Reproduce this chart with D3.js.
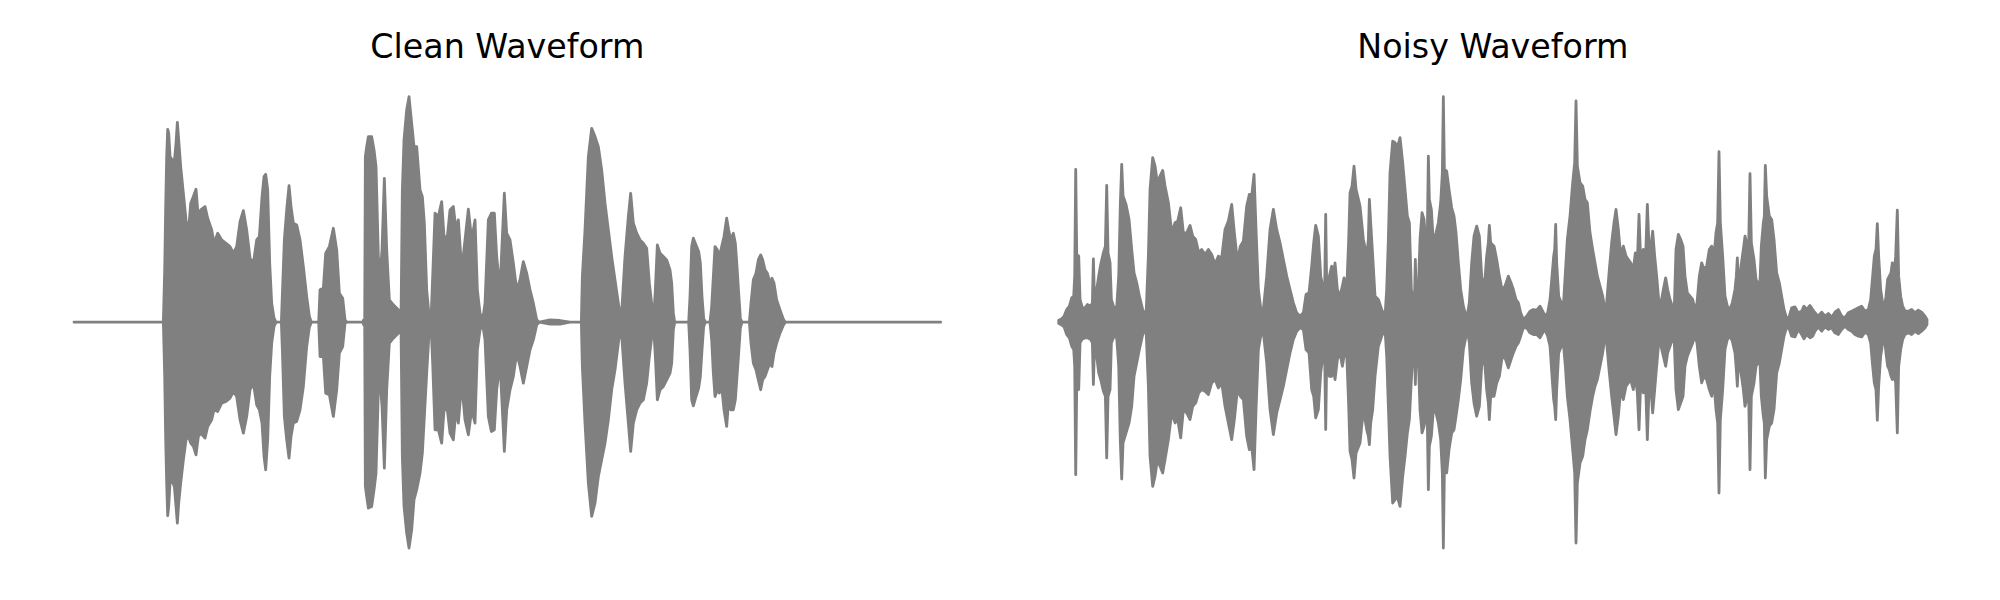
<!DOCTYPE html>
<html><head><meta charset="utf-8">
<script src="https://cdn.jsdelivr.net/npm/d3@7"></script>
<style>html,body{margin:0;padding:0;background:#fff;} svg{display:block;}</style>
</head><body>
<svg id="chart" width="2000" height="600"></svg>
<script>
const panelTitles = ["Clean Waveform", "Noisy Waveform"];

// Envelope of each waveform:
// [time (ms), upper amplitude (x1e-3), lower amplitude (x1e-3)]
const cleanEnvelope = [
[0,0,0],[268,0,0],[272,157,-163],[275,347,-353],[278,497,-483],[281,579,-581],[284,567,-553],[288,497,-483],
[295,487,-478],[301,482,-493],[306,537,-553],[310,600,-603],[314,547,-543],[320,467,-483],[328,387,-413],
[336,307,-353],[343,267,-343],[350,357,-363],[358,377,-373],[366,399,-398],[373,312,-343],[380,337,-333],
[393,347,-348],[401,312,-313],[413,277,-293],[420,237,-263],[431,267,-268],[443,247,-243],[456,237,-238],
[468,227,-228],[478,207,-208],[488,227,-223],[498,302,-293],[508,335,-333],[518,277,-283],[528,192,-203],
[538,177,-183],[548,247,-248],[556,257,-263],[564,377,-303],[570,437,-403],[575,444,-443],[581,397,-353],
[587,177,-163],[593,57,-63],[600,12,-13],[606,0,0],[622,0,0],[625,82,-83],[631,247,-283],[638,337,-353],
[645,410,-408],[651,347,-343],[658,297,-303],[668,292,-298],[678,247,-263],[688,167,-193],[698,77,-73],
[706,17,-15],[712,0,0],[734,0,0],[738,97,-103],[748,102,-103],[755,207,-213],[766,227,-218],[778,282,-283],
[788,217,-203],[796,87,-93],[806,72,-73],[813,7,-3],[818,0,0],[866,0,0],[869,7,-8],[872,0,0],[874,497,-493],
[878,527,-523],[883,557,-558],[893,557,-553],[900,517,-503],[906,467,-453],[913,197,-203],[918,137,-173],
[924,217,-253],[931,432,-438],[938,217,-203],[946,67,-63],[958,52,-48],[973,37,-33],[981,7,-13],[985,397,-403],
[990,547,-553],[998,637,-633],[1005,677,-678],[1013,597,-623],[1020,527,-533],[1028,527,-503],[1038,397,-453],
[1045,377,-393],[1051,297,-283],[1058,97,-153],[1066,12,-18],[1071,7,-8],[1076,137,-123],[1083,327,-323],
[1093,317,-323],[1103,362,-363],[1110,257,-263],[1120,257,-263],[1128,337,-333],[1138,347,-353],[1146,277,-263],
[1153,307,-303],[1163,157,-183],[1173,247,-293],[1183,339,-338],[1193,247,-263],[1203,307,-303],[1210,97,-83],
[1218,27,-23],[1226,7,-8],[1233,57,-53],[1243,307,-283],[1252,327,-328],[1261,327,-323],[1268,197,-203],
[1278,97,-123],[1286,277,-283],[1291,387,-388],[1298,267,-263],[1308,247,-203],[1318,177,-163],[1328,97,-93],
[1338,127,-133],[1348,182,-183],[1358,147,-133],[1368,97,-83],[1378,57,-53],[1388,7,-8],[1396,0,0],[1428,7,-6],
[1458,5,-6],[1488,0,0],[1522,0,0],[1525,137,-133],[1533,277,-303],[1543,497,-483],[1553,582,-583],[1563,557,-543],
[1573,527,-463],[1583,457,-413],[1593,357,-363],[1603,277,-293],[1613,197,-203],[1623,127,-143],[1633,57,-63],
[1639,12,-15],[1644,47,-53],[1653,197,-183],[1663,317,-303],[1670,387,-388],[1678,297,-303],[1688,267,-263],
[1698,247,-243],[1708,237,-233],[1718,222,-183],[1726,117,-103],[1734,47,-38],[1739,12,-18],[1744,97,-103],
[1750,232,-233],[1758,207,-203],[1768,197,-193],[1778,187,-173],[1788,157,-153],[1793,117,-123],[1798,27,-23],
[1802,0,0],[1844,0,0],[1848,77,-83],[1853,227,-233],[1858,252,-251],[1866,232,-223],[1874,212,-198],[1879,177,-163],
[1884,77,-83],[1889,12,-13],[1894,0,0],[1908,0,0],[1913,47,-53],[1918,137,-153],[1923,227,-223],[1930,217,-203],
[1936,197,-213],[1943,227,-193],[1950,257,-263],[1958,312,-313],[1964,277,-233],[1970,247,-263],[1978,267,-263],
[1984,237,-233],[1989,167,-163],[1994,87,-93],[1999,12,-18],[2004,0,0],[2026,0,0],[2031,57,-63],[2038,127,-123],
[2046,147,-143],[2053,187,-173],[2060,202,-203],[2066,187,-173],[2073,157,-163],[2080,147,-143],[2088,117,-123],
[2094,132,-133],[2100,117,-93],[2108,67,-63],[2118,37,-33],[2128,9,-9],[2134,0,0],[2600,0,0]
];

const noisyEnvelope = [
[0,5,-5],[9,9,-9],[16,17,-15],[24,37,-38],[32,47,-48],[39,72,-73],[45,77,-83],[48,137,-133],[51,457,-458],
[54,202,-198],[60,197,-203],[64,67,-63],[71,42,-51],[79,42,-48],[86,52,-48],[96,47,-53],[101,57,-63],[104,189,-188],
[107,77,-83],[114,97,-103],[120,137,-153],[126,172,-173],[134,207,-208],[140,227,-223],[144,409,-408],[148,207,-223],
[154,177,-203],[158,67,-63],[166,42,-43],[174,45,-48],[180,137,-133],[185,357,-363],[189,472,-471],[193,377,-363],
[202,352,-333],[211,307,-303],[219,217,-253],[226,147,-163],[234,117,-123],[242,77,-83],[252,37,-38],[262,17,-21],
[269,197,-193],[274,397,-403],[282,492,-493],[289,467,-463],[296,417,-413],[304,437,-433],[312,454,-453],[319,407,-413],
[329,357,-353],[339,267,-273],[349,297,-303],[357,302,-293],[366,342,-348],[374,267,-263],[384,267,-273],[394,289,-293],
[402,257,-253],[411,247,-243],[420,207,-213],[429,217,-203],[439,202,-208],[449,217,-218],[459,202,-183],[469,172,-173],
[479,197,-198],[489,192,-183],[499,277,-253],[509,302,-303],[519,352,-353],[527,267,-293],[536,182,-203],[545,227,-223],
[554,242,-233],[564,347,-343],[572,382,-383],[579,377,-373],[586,442,-443],[592,277,-263],[599,97,-83],[606,42,-43],
[614,37,-33],[624,137,-123],[634,277,-263],[644,337,-338],[654,277,-273],[664,237,-233],[674,187,-193],[684,137,-143],
[694,97,-93],[704,57,-53],[714,27,-28],[724,17,-18],[734,27,-23],[742,82,-83],[751,87,-93],[759,167,-203],[765,237,-223],
[771,289,-288],[779,257,-263],[786,137,-153],[794,97,-93],[798,107,-103],[801,322,-323],[804,107,-113],[812,137,-163],
[819,167,-163],[824,137,-133],[829,177,-173],[836,97,-113],[844,77,-93],[851,107,-133],[856,132,-103],[864,97,-93],
[870,247,-253],[874,387,-388],[880,407,-413],[886,467,-468],[892,397,-393],[904,347,-363],[914,247,-263],[924,197,-323],
[929,247,-343],[932,367,-368],[936,297,-303],[942,197,-263],[949,77,-163],[959,67,-73],[969,37,-43],[979,17,-23],
[984,97,-103],[989,247,-253],[994,447,-403],[1002,542,-543],[1009,537,-533],[1016,522,-523],[1024,552,-553],
[1032,477,-463],[1039,397,-403],[1046,317,-333],[1052,297,-293],[1058,97,-173],[1064,57,-73],[1067,57,-68],
[1070,187,-188],[1073,57,-63],[1079,97,-113],[1084,247,-263],[1090,327,-333],[1096,307,-313],[1102,227,-283],
[1106,267,-303],[1109,497,-503],[1112,367,-373],[1118,337,-343],[1124,237,-263],[1132,267,-273],[1139,297,-303],
[1146,357,-353],[1151,447,-453],[1154,675,-678],[1157,457,-453],[1164,452,-453],[1171,397,-383],[1179,342,-333],
[1186,317,-323],[1192,267,-283],[1199,177,-233],[1206,97,-173],[1214,47,-83],[1222,17,-43],[1227,27,-33],[1232,57,-63],
[1239,177,-183],[1246,257,-243],[1254,287,-283],[1262,257,-253],[1269,137,-133],[1276,92,-93],[1284,197,-203],
[1289,237,-243],[1292,289,-293],[1296,237,-223],[1306,227,-223],[1314,187,-183],[1322,137,-163],[1330,97,-108],
[1339,107,-108],[1349,137,-138],[1357,117,-113],[1364,97,-93],[1372,67,-73],[1379,57,-63],[1386,27,-43],[1394,7,-18],
[1404,17,-18],[1414,32,-33],[1424,37,-38],[1434,35,-38],[1444,47,-48],[1452,32,-33],[1459,17,-23],[1467,27,-43],
[1474,67,-73],[1480,137,-163],[1485,197,-233],[1488,217,-253],[1491,292,-293],[1494,177,-203],[1500,77,-93],
[1508,57,-73],[1514,47,-63],[1520,147,-133],[1526,247,-223],[1534,317,-293],[1542,417,-383],[1548,477,-453],
[1552,662,-663],[1556,467,-483],[1564,417,-423],[1572,407,-403],[1579,367,-353],[1586,357,-323],[1594,267,-268],
[1602,217,-223],[1609,177,-193],[1616,137,-173],[1624,107,-133],[1632,77,-93],[1639,37,-43],[1644,57,-63],
[1652,157,-153],[1659,237,-223],[1666,297,-283],[1672,337,-338],[1679,277,-283],[1686,197,-203],[1694,227,-233],
[1702,197,-193],[1709,187,-183],[1716,177,-173],[1724,157,-203],[1730,207,-163],[1736,177,-213],[1741,322,-323],
[1746,187,-183],[1754,217,-213],[1761,197,-193],[1766,352,-353],[1771,227,-203],[1777,227,-203],[1782,272,-273],
[1788,197,-203],[1794,137,-133],[1800,67,-63],[1807,57,-73],[1814,97,-103],[1821,132,-133],[1827,97,-93],[1834,67,-73],
[1841,47,-53],[1847,47,-63],[1852,217,-203],[1859,262,-263],[1866,247,-243],[1873,227,-223],[1879,137,-133],
[1886,87,-103],[1894,77,-83],[1902,67,-63],[1909,37,-43],[1915,57,-63],[1922,137,-133],[1929,177,-183],[1936,157,-163],
[1944,167,-173],[1952,217,-203],[1959,227,-223],[1966,197,-183],[1972,267,-263],[1977,297,-303],[1981,510,-513],
[1985,297,-293],[1992,197,-203],[1999,77,-83],[2006,47,-53],[2014,37,-43],[2021,57,-58],[2029,97,-93],[2033,137,-143],
[2036,192,-193],[2040,97,-103],[2047,167,-153],[2054,217,-203],[2059,257,-253],[2064,237,-233],[2070,227,-223],
[2074,444,-443],[2078,237,-223],[2086,187,-183],[2092,127,-133],[2098,117,-123],[2103,97,-103],[2108,227,-223],
[2114,297,-283],[2117,317,-303],[2120,469,-468],[2124,377,-353],[2132,317,-313],[2139,307,-303],[2146,247,-263],
[2154,147,-153],[2162,117,-123],[2169,77,-83],[2176,37,-43],[2182,17,-23],[2189,7,-13],[2199,42,-43],[2209,45,-45],
[2219,27,-23],[2229,32,-38],[2236,47,-51],[2244,37,-38],[2254,49,-48],[2262,37,-43],[2269,27,-28],[2279,17,-15],
[2289,29,-28],[2299,17,-15],[2309,25,-23],[2319,14,-18],[2329,29,-33],[2339,37,-38],[2349,17,-23],[2359,12,-13],
[2369,27,-23],[2379,32,-28],[2389,37,-38],[2399,42,-43],[2409,47,-45],[2419,32,-31],[2429,37,-38],[2436,67,-63],
[2442,137,-133],[2447,197,-183],[2452,217,-203],[2456,294,-295],[2460,197,-193],[2466,97,-103],[2472,57,-63],
[2477,37,-43],[2482,77,-93],[2487,127,-133],[2492,137,-143],[2497,147,-163],[2501,177,-173],[2506,137,-153],
[2511,197,-183],[2516,335,-333],[2520,137,-133],[2526,77,-83],[2532,47,-53],[2539,32,-38],[2549,32,-33],[2559,37,-38],
[2569,27,-28],[2579,35,-35],[2589,29,-28],[2599,17,-18],[2605,7,-8]
];

const svg = d3.select("#chart");
svg.append("rect").attr("width", 2000).attr("height", 600).attr("fill", "#ffffff");

const panels = [
  { title: panelTitles[0], data: cleanEnvelope, left: 30.7, right: 984.0 },
  { title: panelTitles[1], data: noisyEnvelope, left: 1015.3, right: 1970.4 }
];
const axTop = 74.1, axBottom = 570.6;
function padded(ext) { const r = ext[1] - ext[0]; return [ext[0] - 0.05 * r, ext[1] + 0.05 * r]; }

panels.forEach(p => {
  const x = d3.scaleLinear().domain(padded(d3.extent(p.data, d => d[0]))).range([p.left, p.right]);
  const yExt = [d3.min(p.data, d => d[2]), d3.max(p.data, d => d[1])];
  const y = d3.scaleLinear().domain(padded(yExt)).range([axBottom, axTop]);
  const area = d3.area().x(d => x(d[0])).y0(d => y(d[2])).y1(d => y(d[1]));
  svg.append("path").datum(p.data).attr("d", area)
    .attr("fill", "#808080").attr("stroke", "#808080")
    .attr("stroke-width", 2.8).attr("stroke-linejoin", "round");
  svg.append("text")
    .attr("x", (p.left + p.right) / 2).attr("y", 58.3)
    .attr("text-anchor", "middle")
    .attr("font-family", "DejaVu Sans").attr("font-size", "33.3px")
    .attr("fill", "#000000").text(p.title);
});
</script></body></html>
